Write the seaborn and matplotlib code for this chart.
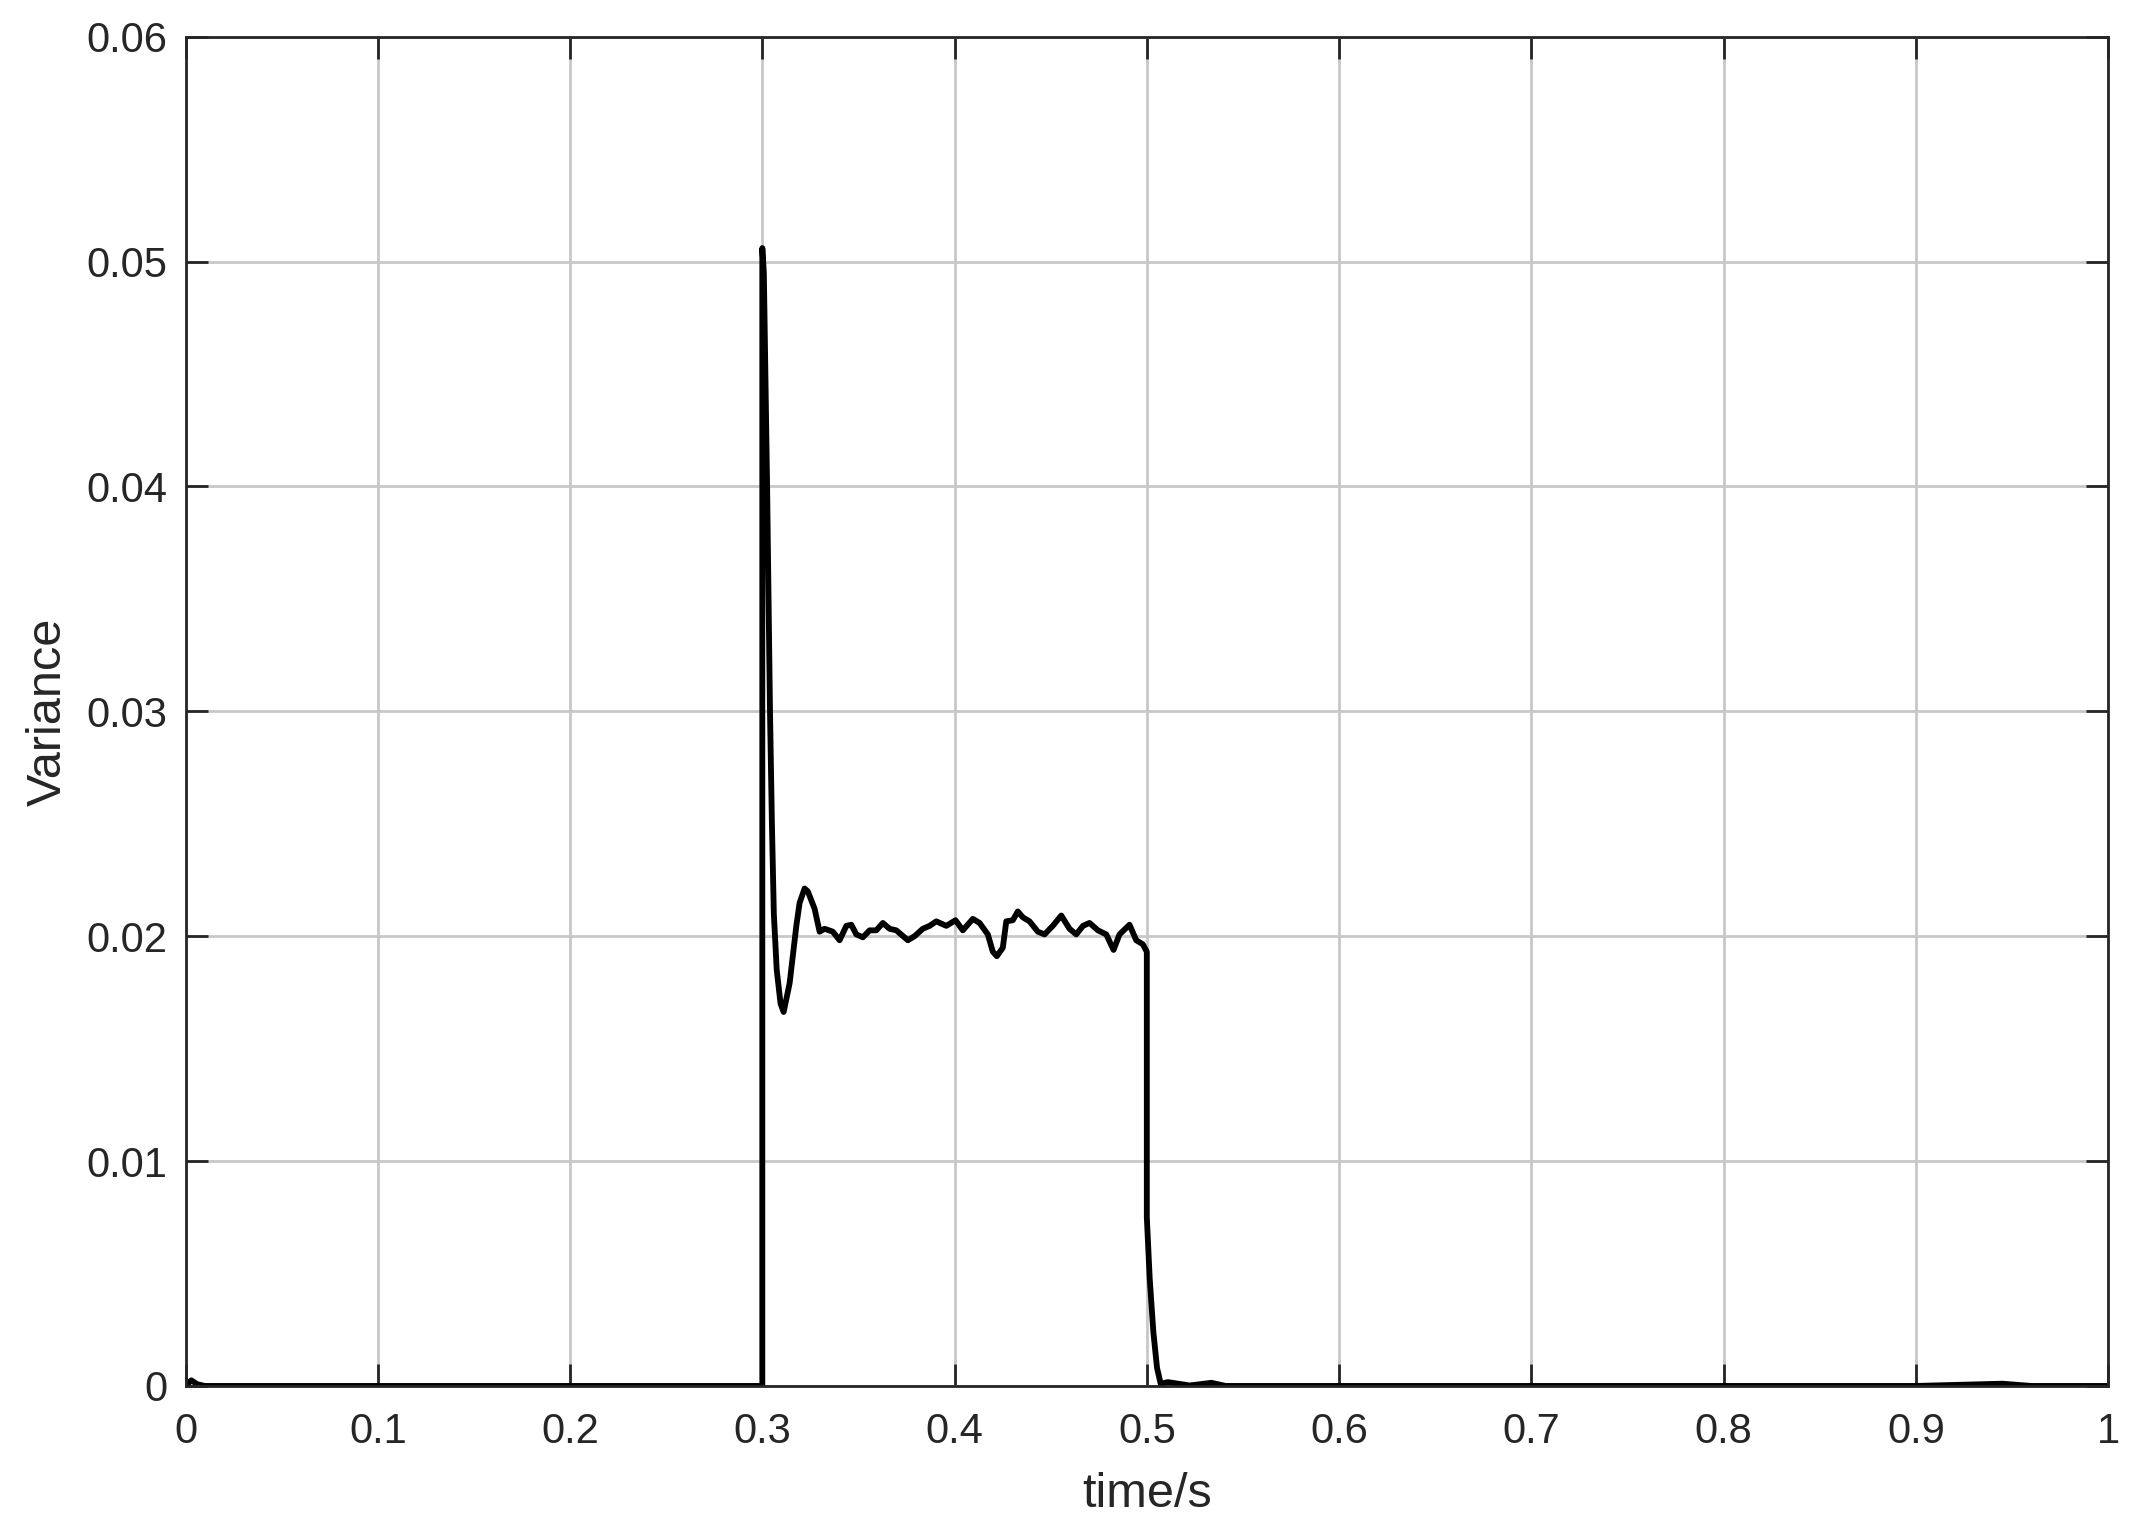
import numpy as np
import pandas as pd
import matplotlib
matplotlib.use("Agg")
import matplotlib.pyplot as plt
import seaborn as sns

# values
time = [0.0, 0.003, 0.006, 0.010, 0.030, 0.060, 0.100, 0.150, 0.200, 0.250, 0.2995,
        0.3000, 0.3000, 0.3008, 0.3025, 0.3040, 0.3050, 0.3060, 0.3075, 0.3095, 0.3111,
        0.3142, 0.3177, 0.3194, 0.3220, 0.3237, 0.3272, 0.3298, 0.3324, 0.3367, 0.3402,
        0.3437, 0.3463, 0.3489, 0.3523, 0.3558, 0.3593, 0.3627, 0.3662, 0.3697, 0.3757,
        0.3792, 0.3835, 0.3870, 0.3905, 0.3957, 0.4005, 0.4043, 0.4095, 0.4130, 0.4173,
        0.4199, 0.4220, 0.4251, 0.4269, 0.4303, 0.4329, 0.4355, 0.4390, 0.4433, 0.4468,
        0.4511, 0.4555, 0.4598, 0.4633, 0.4668, 0.4702, 0.4746, 0.4789, 0.4827, 0.4858,
        0.4910, 0.4945, 0.4979, 0.5000, 0.5000, 0.5015, 0.5034, 0.5053, 0.5072, 0.5110,
        0.5223, 0.5336, 0.5410, 0.6000, 0.7000, 0.8000, 0.9000, 0.9450, 0.9600, 1.0000]
variance = [0.0, 0.00025, 0.00008, 0.0, 0.0, 0.0, 0.0, 0.0, 0.0, 0.0, 0.0,
            0.0, 0.0506, 0.0495, 0.0400, 0.0300, 0.0250, 0.0210, 0.0185, 0.0170, 0.01663,
            0.0179, 0.02046, 0.02148, 0.02212, 0.02199, 0.02122, 0.0202, 0.02033, 0.0202, 0.01982,
            0.02046, 0.02051, 0.02008, 0.01995, 0.02026, 0.02026, 0.02059, 0.02033, 0.02026, 0.01982,
            0.0200, 0.02033, 0.02046, 0.02066, 0.02046, 0.02071, 0.02026, 0.02077, 0.02059, 0.02008,
            0.01931, 0.01911, 0.01949, 0.02066, 0.02071, 0.0211, 0.02084, 0.02066, 0.0202, 0.02008,
            0.02046, 0.02092, 0.02033, 0.02008, 0.02046, 0.02059, 0.02026, 0.02008, 0.01939, 0.02008,
            0.02051, 0.01982, 0.01964, 0.01931, 0.0075, 0.00478, 0.0024, 0.00081, 0.0001, 0.00017,
            0.00002, 0.00014, 0.0, 0.0, 0.0, 0.0, 0.0, 0.0001, 0.0, 0.0]

x_ticks = [0, 0.1, 0.2, 0.3, 0.4, 0.5, 0.6, 0.7, 0.8, 0.9, 1]
x_labels = ["0", "0.1", "0.2", "0.3", "0.4", "0.5", "0.6", "0.7", "0.8", "0.9", "1"]
y_ticks = [0, 0.01, 0.02, 0.03, 0.04, 0.05, 0.06]
y_labels = ["0", "0.01", "0.02", "0.03", "0.04", "0.05", "0.06"]

df = pd.DataFrame({"time": time, "variance": variance})

sns.set_style("ticks")
plt.rcParams["font.family"] = ["Liberation Sans", "DejaVu Sans"]

fig = plt.figure(figsize=(21.35, 15.35), dpi=100)
ax = fig.add_axes([0.0869, 0.0971, 0.9005, 0.8790])

sns.lineplot(data=df, x="time", y="variance", ax=ax, color="black",
             linewidth=4.2, estimator=None, sort=False)

ax.set_xlim(0, 1)
ax.set_ylim(0, 0.06)
ax.set_xticks(x_ticks)
ax.set_xticklabels(x_labels)
ax.set_yticks(y_ticks)
ax.set_yticklabels(y_labels)

ax.grid(True, color="#c8c8c8", linewidth=2.0)
ax.set_axisbelow(True)
for s in ax.spines.values():
    s.set_visible(True)
    s.set_color("#262626")
    s.set_linewidth(2.0)
ax.tick_params(direction="in", length=16, width=2.0, colors="#262626",
               labelsize=30, top=True, right=True, pad=13)
ax.tick_params(axis="x", pad=19)

ax.set_xlabel("time/s", fontsize=35, color="#262626", labelpad=14)
ax.set_ylabel("Variance", fontsize=35, color="#262626", labelpad=11)

fig.savefig("out.png", dpi=100, facecolor="white")
